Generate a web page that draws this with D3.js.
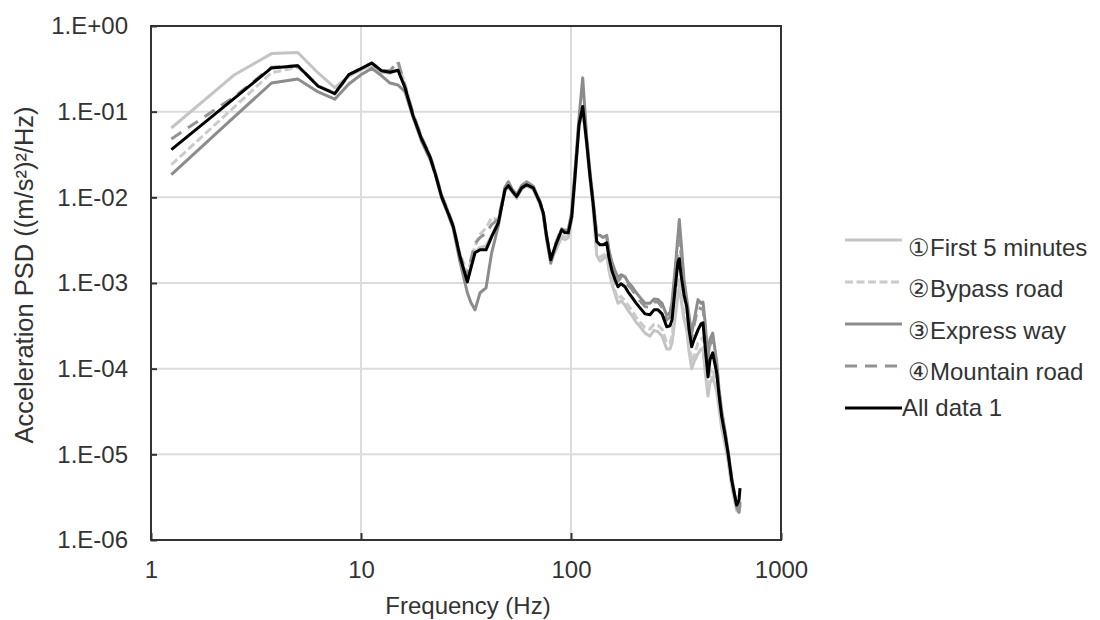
<!DOCTYPE html>
<html>
<head>
<meta charset="utf-8">
<script src="https://cdn.jsdelivr.net/npm/d3@7"></script>
<style>
  body { margin: 0; background: #fff; }
  svg { font-family: "Liberation Sans", Arial, sans-serif; }
</style>
</head>
<body>
<div id="psd_chart"></div>
<script>
// Frequency bins (Hz)
const freq = [
  1.25, 2.5, 3.75, 5, 6.25, 7.5, 8.75, 10, 11.25, 12.5,
  13.75, 15, 16.2, 17.7, 19.5, 21.3, 22.5, 24.2, 26, 27.5,
  29.6, 32.1, 33.4, 34.9, 36.9, 39.4, 41.9, 45.1, 48.5, 50.3,
  52.4, 55.1, 58.3, 61.5, 66.1, 71.2, 73.8, 76.6, 80.1, 83.9,
  90.3, 93.6, 97.1, 100.8, 104.5, 109.2, 113.7, 118.8, 123.1, 127.3,
  132.6, 137.5, 142.1, 147.9, 151.7, 156.2, 162, 167.4, 173, 180.8,
  186.8, 194.5, 203.9, 213.1, 225.1, 237.8, 248.5, 259.6, 271.3, 285.6,
  296.1, 302.7, 312.8, 323.2, 328, 334.1, 345.3, 355.7, 364.8, 375.7,
  385.3, 402.5, 415.9, 425.1, 434.5, 449.1, 459, 472.9, 494.1, 506.8,
  522, 541.2, 559.3, 582.4, 597.3, 615.2, 631, 638
];

// Acceleration PSD, (m/s2)2/Hz
const first5min = [
  0.0645, 0.27, 0.476, 0.49, 0.283, 0.191, 0.26, 0.31, 0.35, 0.29,
  0.28, 0.31, 0.2, 0.092, 0.048, 0.03, 0.02, 0.0105, 0.0068, 0.0047,
  0.0021, 0.0011, 0.0015, 0.0023, 0.0026, 0.0027, 0.0036, 0.0052, 0.0118, 0.0132,
  0.0115, 0.0097, 0.0125, 0.0136, 0.0124, 0.0082, 0.0062, 0.0033, 0.0019, 0.0023,
  0.0034, 0.0032, 0.0034, 0.0055, 0.016, 0.066, 0.105, 0.04, 0.016, 0.0075,
  0.0021, 0.0018, 0.0019, 0.0021, 0.0014, 0.001, 0.00075, 0.00058, 0.00062, 0.00055,
  0.00048, 0.00042, 0.00035, 0.00031, 0.00026, 0.00024, 0.00028, 0.00027, 0.00024, 0.00017,
  0.00017, 0.0002, 0.00038, 0.00075, 0.0009, 0.00065, 0.00038, 0.00028, 0.00016, 0.0001,
  0.00012, 0.00015, 0.00017, 0.00017, 0.000095, 0.000048, 0.000068, 0.00008, 0.000055, 0.000034,
  0.00002, 0.000013, 0.0000085, 0.0000042, 0.0000031, 0.0000022, 0.0000021, 0.0000025
];

const bypassRoad = [
  0.024, 0.114, 0.285, 0.33, 0.2, 0.16, 0.26, 0.31, 0.36, 0.3,
  0.3, 0.37, 0.21, 0.095, 0.05, 0.031, 0.0205, 0.0106, 0.0069, 0.0048,
  0.0022, 0.0013, 0.0018, 0.0027, 0.0037, 0.0044, 0.0058, 0.0055, 0.0121, 0.0142,
  0.0121, 0.0101, 0.0132, 0.0145, 0.013, 0.0086, 0.0064, 0.0035, 0.0018, 0.0025,
  0.0036, 0.0034, 0.0035, 0.0058, 0.017, 0.068, 0.11, 0.042, 0.017, 0.008,
  0.0023, 0.002, 0.0021, 0.0022, 0.0015, 0.0011, 0.00082, 0.00065, 0.0007, 0.00062,
  0.00055, 0.00048, 0.0004, 0.00035, 0.0003, 0.00029, 0.00033, 0.00032, 0.00029, 0.0002,
  0.0002, 0.00024, 0.00048, 0.0009, 0.0011, 0.00075, 0.00045, 0.00033, 0.0002, 0.00012,
  0.00014, 0.0002, 0.00022, 0.00023, 0.00012, 0.000056, 0.00009, 0.0001, 0.000065, 0.00004,
  0.000023, 0.000014, 0.0000092, 0.0000046, 0.0000033, 0.0000023, 0.0000022, 0.0000027
];

const expressWay = [
  0.0184, 0.0875, 0.216, 0.24, 0.17, 0.14, 0.21, 0.27, 0.32, 0.264,
  0.216, 0.205, 0.171, 0.086, 0.044, 0.028, 0.019, 0.0098, 0.0063, 0.0043,
  0.00177, 0.000769, 0.000587, 0.000486, 0.000769, 0.000879, 0.00225, 0.00466, 0.0131, 0.0152,
  0.0125, 0.0108, 0.0138, 0.0152, 0.0135, 0.0088, 0.0062, 0.0032, 0.0017, 0.0025,
  0.0043, 0.0041, 0.0042, 0.0068, 0.021, 0.085, 0.248, 0.05, 0.02, 0.0095,
  0.0037, 0.0036, 0.0034, 0.0036, 0.0024, 0.0018, 0.0014, 0.00115, 0.00125, 0.00118,
  0.00102, 0.00092, 0.00078, 0.00068, 0.00058, 0.00058, 0.00065, 0.00064, 0.00058, 0.00042,
  0.00045, 0.0006, 0.0014, 0.0036, 0.0055, 0.0031, 0.0011, 0.00065, 0.00042, 0.00026,
  0.00036, 0.00064, 0.00058, 0.0006, 0.00036, 0.00013, 0.00022, 0.00026, 0.00012, 0.000058,
  0.000032, 0.000019, 0.000011, 0.0000054, 0.0000038, 0.0000024, 0.0000022, 0.0000028
];

const mountainRoad = [
  0.048, 0.15, 0.33, 0.345, 0.2, 0.165, 0.27, 0.32, 0.37, 0.3,
  0.3, 0.39, 0.2, 0.095, 0.049, 0.031, 0.02, 0.0106, 0.0068, 0.0047,
  0.0021, 0.0012, 0.0019, 0.0029, 0.0034, 0.0038, 0.0048, 0.0056, 0.0128, 0.0145,
  0.0124, 0.0104, 0.0134, 0.0148, 0.0133, 0.009, 0.0068, 0.0036, 0.0019, 0.0028,
  0.0044, 0.004, 0.0041, 0.0064, 0.019, 0.078, 0.13, 0.046, 0.019, 0.0092,
  0.0036, 0.0034, 0.0033, 0.0034, 0.0023, 0.0017, 0.0013, 0.00105, 0.00115, 0.00108,
  0.00095, 0.00085, 0.00072, 0.00062, 0.00053, 0.00052, 0.0006, 0.0006, 0.00052, 0.00037,
  0.0004, 0.0005, 0.0011, 0.0026, 0.0033, 0.0022, 0.0009, 0.0006, 0.00037, 0.00023,
  0.00032, 0.00052, 0.0005, 0.0005, 0.0003, 0.00011, 0.00019, 0.00022, 0.00011, 0.000055,
  0.00003, 0.000018, 0.000011, 0.0000052, 0.0000037, 0.0000024, 0.0000021, 0.0000026
];

const allData = [
  0.036, 0.144, 0.324, 0.344, 0.198, 0.162, 0.27, 0.318, 0.37, 0.301,
  0.288, 0.305, 0.19, 0.0897, 0.0471, 0.0298, 0.0194, 0.0102, 0.00656, 0.00457,
  0.00204, 0.00103, 0.00151, 0.00225, 0.00244, 0.00244, 0.00347, 0.00505, 0.0123, 0.0137,
  0.0119, 0.0102, 0.0129, 0.014, 0.0129, 0.00865, 0.00661, 0.00347, 0.00187, 0.00265,
  0.00418, 0.00385, 0.00385, 0.00593, 0.0174, 0.0705, 0.115, 0.0434, 0.0179, 0.00865,
  0.00305, 0.00279, 0.00279, 0.00295, 0.00197, 0.00143, 0.00109, 0.000904, 0.00098, 0.000904,
  0.000789, 0.00069, 0.000587, 0.000513, 0.000436, 0.000426, 0.000486, 0.000486, 0.000436, 0.000308,
  0.000316, 0.000372, 0.000834, 0.00177, 0.00192, 0.00125, 0.000728, 0.000527, 0.000284, 0.00018,
  0.000217, 0.000284, 0.000333, 0.000343, 0.00019, 0.0000802, 0.000127, 0.000153, 0.0000893, 0.0000494,
  0.0000274, 0.0000169, 0.0000104, 0.00000502, 0.00000364, 0.00000256, 0.00000293, 0.00000404
];

const seriesNames = [
  "\u2460First 5 minutes",
  "\u2461Bypass road",
  "\u2462Express way",
  "\u2463Mountain road",
  "All data 1"
];

const xTicks = [1, 10, 100, 1000];
const yTicks = [1e-6, 1e-5, 1e-4, 1e-3, 1e-2, 1e-1, 1];

function psdChart() {
  const width = 1100;
  const height = 620;
  const plot = { left: 151, top: 26, right: 781, bottom: 540 };

  const series = [
    { name: seriesNames[0], values: first5min, color: "#c4c4c4", dash: null },
    { name: seriesNames[1], values: bypassRoad, color: "#cacaca", dash: "8,3.5" },
    { name: seriesNames[2], values: expressWay, color: "#8c8c8c", dash: null },
    { name: seriesNames[3], values: mountainRoad, color: "#939393", dash: "12,8" },
    { name: seriesNames[4], values: allData, color: "#000", dash: null }
  ];

  const x = d3.scaleLog().domain([1, 1000]).range([plot.left, plot.right]);
  const y = d3.scaleLog().domain([1e-6, 1]).range([plot.bottom, plot.top]);

  const svg = d3
    .select("#psd_chart")
    .append("svg")
    .attr("width", width)
    .attr("height", height);

  svg.append("rect")
    .attr("width", width)
    .attr("height", height)
    .attr("fill", "#fff");

  // gridlines at each decade
  const grid = svg.append("g")
    .attr("stroke", "#dcdcdc")
    .attr("stroke-width", 2);

  grid.selectAll(".gx")
    .data(xTicks.slice(1, -1))
    .enter()
    .append("line")
    .attr("x1", d => x(d))
    .attr("x2", d => x(d))
    .attr("y1", plot.top)
    .attr("y2", plot.bottom);

  grid.selectAll(".gy")
    .data(yTicks.slice(1, -1))
    .enter()
    .append("line")
    .attr("x1", plot.left)
    .attr("x2", plot.right)
    .attr("y1", d => y(d))
    .attr("y2", d => y(d));

  // curves
  const line = d3.line()
    .x(d => x(d[0]))
    .y(d => y(d[1]));

  svg.append("g")
    .selectAll("path")
    .data(series)
    .enter()
    .append("path")
    .attr("d", s => line(freq.map((f, i) => [f, s.values[i]])))
    .attr("fill", "none")
    .attr("stroke", s => s.color)
    .attr("stroke-width", 3)
    .attr("stroke-linejoin", "round")
    .attr("stroke-dasharray", s => s.dash);

  // frame
  svg.append("rect")
    .attr("x", plot.left)
    .attr("y", plot.top)
    .attr("width", plot.right - plot.left)
    .attr("height", plot.bottom - plot.top)
    .attr("fill", "none")
    .attr("stroke", "#333")
    .attr("stroke-width", 2);

  const fmtY = function(d) {
    const e = Math.round(Math.log10(d));
    const sign = e < 0 ? "-" : "+";
    return "1.E" + sign + String(Math.abs(e)).padStart(2, "0");
  };

  const yAxis = svg.append("g")
    .attr("transform", "translate(" + plot.left + ",0)")
    .call(d3.axisLeft(y).tickValues(yTicks).tickFormat(fmtY)
      .tickSizeInner(-6).tickSizeOuter(0).tickPadding(23));

  const xAxis = svg.append("g")
    .attr("transform", "translate(0," + plot.bottom + ")")
    .call(d3.axisBottom(x).tickValues(xTicks).tickFormat(d3.format("d"))
      .tickSizeInner(-7).tickSizeOuter(0).tickPadding(21));

  [xAxis, yAxis].forEach(function(a) {
    a.select(".domain").remove();
    a.selectAll(".tick line").attr("stroke", "#333").attr("stroke-width", 2);
    a.selectAll(".tick text")
      .attr("fill", "#333")
      .style("font-size", "24px")
      .style("font-family", "'Liberation Sans', Arial, sans-serif");
  });

  // axis titles
  svg.append("text")
    .attr("x", 468)
    .attr("y", 614)
    .attr("text-anchor", "middle")
    .attr("fill", "#333")
    .style("font-size", "24px")
    .text("Frequency (Hz)");

  svg.append("text")
    .attr("transform", "translate(33,275) rotate(-90)")
    .attr("text-anchor", "middle")
    .attr("fill", "#333")
    .style("font-size", "25.5px")
    .text("Acceleration PSD ((m/s\u00b2)\u00b2/Hz)");

  // legend
  const rows = [
    { lineY: 240, textY: 256, textX: 908 },
    { lineY: 282, textY: 297, textX: 908 },
    { lineY: 324, textY: 339, textX: 908 },
    { lineY: 366, textY: 380, textX: 908 },
    { lineY: 408, textY: 416, textX: 902 }
  ];

  const legend = svg.selectAll(".legend")
    .data(series)
    .enter()
    .append("g")
    .attr("class", "legend");

  legend.append("line")
    .attr("x1", 845)
    .attr("x2", 902)
    .attr("y1", (d, i) => rows[i].lineY)
    .attr("y2", (d, i) => rows[i].lineY)
    .attr("stroke", d => d.color)
    .attr("stroke-width", 3)
    .attr("stroke-dasharray", d => d.dash);

  legend.append("text")
    .attr("x", (d, i) => rows[i].textX)
    .attr("y", (d, i) => rows[i].textY)
    .attr("fill", "#333")
    .style("font-size", "24px")
    .text(d => d.name);
}

psdChart();
</script>
</body>
</html>
